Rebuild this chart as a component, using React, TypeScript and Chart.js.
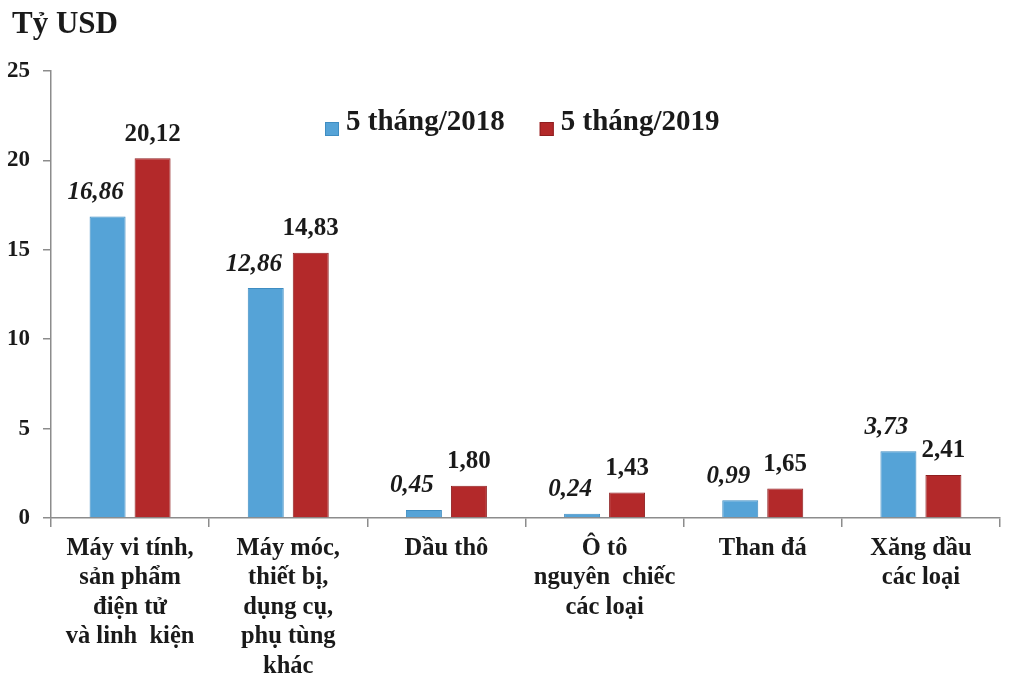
import React, { useEffect, useRef } from "react";
import { Chart, registerables } from "chart.js";

Chart.register(...registerables);

const categories: string[][] = [
  ["Máy vi tính,", "sản phẩm", "điện tử", "và linh  kiện"],
  ["Máy móc,", "thiết bị,", "dụng cụ,", "phụ tùng", "khác"],
  ["Dầu thô"],
  ["Ô tô", "nguyên  chiếc", "các loại"],
  ["Than đá"],
  ["Xăng dầu", "các loại"],
];
const series2018: number[] = [16.86, 12.86, 0.45, 0.24, 0.99, 3.73];
const series2019: number[] = [20.12, 14.83, 1.8, 1.43, 1.65, 2.41];
const seriesNames: string[] = ["5 tháng/2018", "5 tháng/2019"];
const yTicks: number[] = [0, 5, 10, 15, 20, 25];
const unitLabel = "Tỷ USD";

const BLUE = "#55a3d7";
const BLUE_BORDER = "#3f8dc2";
const RED = "#b3292a";
const RED_BORDER = "#8f1f20";
const AXIS = "#8c8c8c";
const TEXT = "#1a1a1a";
const FONT = "'Liberation Serif', 'Times New Roman', serif";

const fmt = (v: number) => v.toFixed(2).replace(".", ",");

const labelsPlugin = {
  id: "valueLabels",
  afterDatasetsDraw(chart: any) {
    const ctx = chart.ctx;
    ctx.save();
    ctx.textAlign = "center";
    ctx.textBaseline = "middle";
    ctx.fillStyle = TEXT;
    chart.data.datasets.forEach((ds: any, di: number) => {
      const meta = chart.getDatasetMeta(di);
      ctx.font = (di === 0 ? "italic " : "") + `bold 25px ${FONT}`;
      const dx = di === 0 ? -12 : 0;
      meta.data.forEach((el: any, i: number) => {
        ctx.fillText(fmt(ds.data[i]), el.x + dx, el.y - 24);
      });
    });
    ctx.restore();
  },
};

const decorPlugin = {
  id: "decor",
  afterDraw(chart: any) {
    const ctx = chart.ctx;
    ctx.save();
    // unit title
    ctx.fillStyle = TEXT;
    ctx.font = `bold 31px ${FONT}`;
    ctx.textAlign = "left";
    ctx.textBaseline = "alphabetic";
    ctx.fillText(unitLabel, 12, 33);
    // legend
    ctx.font = `bold 29px ${FONT}`;
    const colors = [BLUE, RED];
    const borders = [BLUE_BORDER, RED_BORDER];
    let x = 325;
    seriesNames.forEach((name, i) => {
      ctx.fillStyle = colors[i];
      ctx.fillRect(x, 122, 14, 14);
      ctx.strokeStyle = borders[i];
      ctx.lineWidth = 1;
      ctx.strokeRect(x + 0.5, 122.5, 13, 13);
      ctx.fillStyle = TEXT;
      ctx.fillText(name, x + 21, 130);
      const w = ctx.measureText(name).width;
      x += 21 + w + 35;
    });
    ctx.restore();
  },
};

export default function App() {
  const ref = useRef<HTMLCanvasElement | null>(null);
  useEffect(() => {
    if (!ref.current) return;
    const chart = new Chart(ref.current, {
      type: "bar",
      data: {
        labels: categories,
        datasets: [
          {
            label: seriesNames[0],
            data: series2018,
            backgroundColor: BLUE,
            borderColor: BLUE_BORDER,
            borderWidth: 1,
            categoryPercentage: 0.569,
            barPercentage: 0.8,
          },
          {
            label: seriesNames[1],
            data: series2019,
            backgroundColor: RED,
            borderColor: RED_BORDER,
            borderWidth: 1,
            categoryPercentage: 0.569,
            barPercentage: 0.8,
          },
        ],
      },
      options: {
        responsive: false,
        animation: false,
        layout: { padding: { top: 71, right: 24, bottom: 0, left: 0 } },
        plugins: {
          legend: { display: false },
          tooltip: { enabled: false },
          title: { display: false },
        },
        scales: {
          x: {
            offset: true,
            grid: {
              display: true,
              offset: true,
              drawOnChartArea: false,
              drawTicks: true,
              tickLength: 9,
              color: AXIS,
              lineWidth: 1.5,
            },
            border: { display: true, color: AXIS, width: 1.5 },
            ticks: {
              color: TEXT,
              padding: 7,
              maxRotation: 0,
              autoSkip: false,
              font: { family: FONT, size: 24.5, weight: "bold", lineHeight: 1.2 },
            },
            afterFit(scale: any) {
              scale.height = 172;
            },
          },
          y: {
            min: 0,
            max: 25,
            afterBuildTicks(scale: any) {
              scale.ticks = yTicks.map((v) => ({ value: v }));
            },
            grid: {
              display: true,
              drawOnChartArea: false,
              drawTicks: true,
              tickLength: 8,
              color: AXIS,
              lineWidth: 1.5,
            },
            border: { display: true, color: AXIS, width: 1.5 },
            ticks: {
              color: TEXT,
              padding: 13,
              font: { family: FONT, size: 23, weight: "bold" },
            },
            afterFit(scale: any) {
              scale.width = 51;
            },
          },
        },
      },
      plugins: [labelsPlugin, decorPlugin],
    } as any);
    return () => chart.destroy();
  }, []);
  return (
    <div style={{ position: "absolute", left: 0, top: 0, width: 1024, height: 690, background: "#fff" }}>
      <canvas ref={ref} width={1024} height={690} />
    </div>
  );
}
